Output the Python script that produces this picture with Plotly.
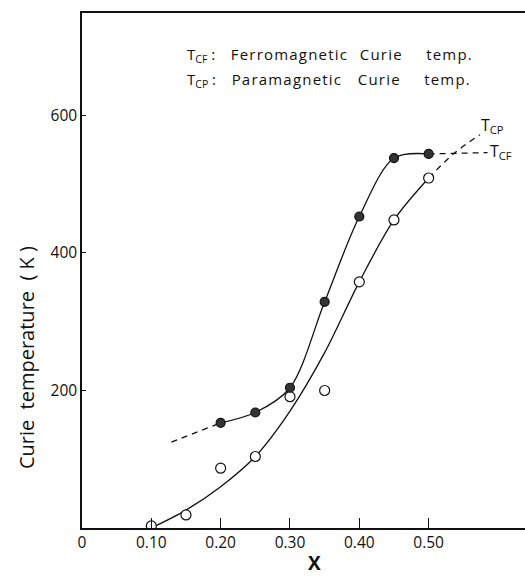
import plotly.graph_objects as go

# Measured Curie temperatures (K) versus composition X
x_tcf = [0.20, 0.25, 0.30, 0.35, 0.40, 0.45, 0.50]
t_tcf = [153, 168, 204, 329, 453, 538, 544]

x_tcp = [0.10, 0.15, 0.20, 0.25, 0.30, 0.35, 0.40, 0.45, 0.50]
t_tcp = [3, 19, 87, 104, 191, 200, 358, 448, 509]

# Hand-drawn trend curves through the data
curve_tcf_x = [0.20, 0.25, 0.30, 0.35, 0.40, 0.45, 0.50]
curve_tcf_t = [153, 168, 204, 329, 453, 538, 544]
dash_tcf_left_x = [0.129, 0.20]
dash_tcf_left_t = [125, 153]
dash_tcf_right_x = [0.50, 0.585]
dash_tcf_right_t = [544, 546]

curve_tcp_x = [0.10, 0.15, 0.20, 0.25, 0.30, 0.35, 0.40, 0.45, 0.50]
curve_tcp_t = [0, 26, 60, 104, 170, 255, 358, 448, 509]
dash_tcp_x = [0.50, 0.537, 0.574]
dash_tcp_t = [509, 545, 572]

x_tickvals = [0, 0.10, 0.20, 0.30, 0.40, 0.50]
x_ticktext = ["0", "0.10", "0.20", "0.30", "0.40", "0.50"]
y_tickvals = [200, 400, 600]
y_ticktext = ["200", "400", "600"]

FONT = "Open Sans"
INK = "#111"
SP = "&nbsp;"


def spaced(s, px=1.2):
    return '<span style="letter-spacing:%.1fpx">%s</span>' % (px, s)


fig = go.Figure()

line = dict(color=INK, width=1.3)
dline = dict(color=INK, width=1.3, dash="6px,5px")

fig.add_trace(go.Scatter(x=curve_tcf_x, y=curve_tcf_t, mode="lines",
                         line=dict(**line, shape="spline", smoothing=0.9)))
fig.add_trace(go.Scatter(x=dash_tcf_left_x, y=dash_tcf_left_t, mode="lines", line=dline))
fig.add_trace(go.Scatter(x=dash_tcf_right_x, y=dash_tcf_right_t, mode="lines", line=dline))
fig.add_trace(go.Scatter(x=curve_tcp_x, y=curve_tcp_t, mode="lines",
                         line=dict(**line, shape="spline", smoothing=0.9)))
fig.add_trace(go.Scatter(x=dash_tcp_x, y=dash_tcp_t, mode="lines",
                         line=dict(**dline, shape="spline")))

fig.add_trace(go.Scatter(x=x_tcp, y=t_tcp, mode="markers",
                         marker=dict(symbol="circle", size=10, color="white",
                                     line=dict(color=INK, width=1.2))))
fig.add_trace(go.Scatter(x=x_tcf, y=t_tcf, mode="markers",
                         marker=dict(symbol="circle", size=9, color="#333",
                                     line=dict(color=INK, width=1.2))))

legend_font = dict(family=FONT, size=15, color=INK)
annos = [
    dict(x=0.149, y=688,
         text="T<sub>CF</sub> :" + SP * 4 + spaced("Ferromagnetic") + SP * 3
              + spaced("Curie") + SP * 6 + spaced("temp."),
         xanchor="left", yanchor="middle", showarrow=False, font=legend_font),
    dict(x=0.149, y=652,
         text="T<sub>CP</sub> :" + SP * 4 + spaced("Paramagnetic") + SP * 4
              + spaced("Curie") + SP * 6 + spaced("temp."),
         xanchor="left", yanchor="middle", showarrow=False, font=legend_font),
    dict(x=0.573, y=586, text="T<sub>CP</sub>", xanchor="left", yanchor="middle",
         showarrow=False, font=dict(family=FONT, size=16, color=INK)),
    dict(x=0.586, y=547, text="T<sub>CF</sub>", xanchor="left", yanchor="middle",
         showarrow=False, font=dict(family=FONT, size=16, color=INK)),
    # axis titles
    dict(xref="paper", yref="y", x=-0.125, y=248, textangle=-90,
         text="Curie" + SP * 2 + "temperature" + SP * 2 + "( K )",
         xanchor="center", yanchor="middle", showarrow=False,
         font=dict(family=FONT, size=20, color=INK)),
    dict(x=0.335, yref="paper", y=-0.068, text="<b>X</b>",
         xanchor="center", yanchor="middle", showarrow=False,
         font=dict(family=FONT, size=19, color=INK)),
]

fig.update_layout(
    width=525, height=578,
    margin=dict(l=82, r=0, t=13, b=50),
    paper_bgcolor="white", plot_bgcolor="white",
    showlegend=False,
    annotations=annos,
    font=dict(family=FONT, color=INK),
    xaxis=dict(range=[0, 0.639], tickvals=x_tickvals, ticktext=x_ticktext,
               ticks="inside", ticklen=10, tickwidth=1.3, tickcolor=INK,
               showline=True, linecolor=INK, linewidth=1.5, mirror=True,
               showgrid=False, zeroline=False,
               tickfont=dict(family=FONT, size=15.5, color=INK)),
    yaxis=dict(range=[0, 749], tickvals=y_tickvals, ticktext=y_ticktext,
               ticks="inside", ticklen=4, tickwidth=1.3, tickcolor=INK,
               showline=True, linecolor=INK, linewidth=1.5,
               showgrid=False, zeroline=False,
               tickfont=dict(family=FONT, size=15.5, color=INK)),
)

fig.write_html("out.html")
